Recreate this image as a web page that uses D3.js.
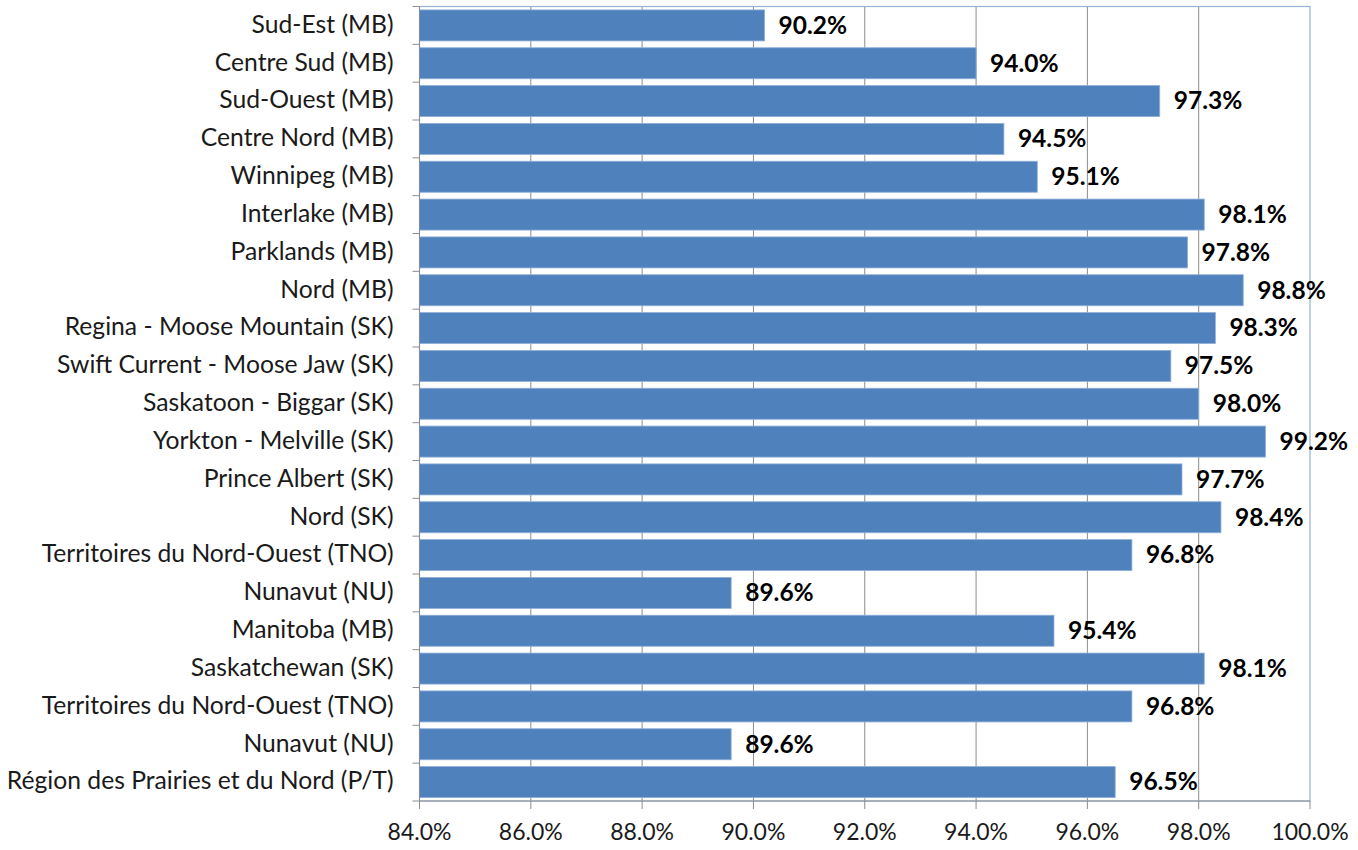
<!DOCTYPE html>
<html><head><meta charset="utf-8">
<script src="https://cdn.jsdelivr.net/npm/d3@7"></script>
<style>body{margin:0;background:#fff}</style>
</head><body><svg id="c" width="1358" height="850"></svg>
<script>
const categories = ["Sud-Est (MB)","Centre Sud (MB)","Sud-Ouest (MB)","Centre Nord (MB)","Winnipeg (MB)","Interlake (MB)","Parklands (MB)","Nord (MB)","Regina - Moose Mountain (SK)","Swift Current - Moose Jaw (SK)","Saskatoon - Biggar (SK)","Yorkton - Melville (SK)","Prince Albert (SK)","Nord (SK)","Territoires du Nord-Ouest (TNO)","Nunavut (NU)","Manitoba (MB)","Saskatchewan (SK)","Territoires du Nord-Ouest (TNO)","Nunavut (NU)","Région des Prairies et du Nord (P/T)"];
const values = [90.2,94.0,97.3,94.5,95.1,98.1,97.8,98.8,98.3,97.5,98.0,99.2,97.7,98.4,96.8,89.6,95.4,98.1,96.8,89.6,96.5];
const xTicks = [84,86,88,90,92,94,96,98,100];

const font = "Lato, 'Open Sans', sans-serif";
const L = 419.5, R = 1310, T = 6.5, B = 801;
const svg = d3.select("#c");
const x = d3.scaleLinear().domain([84,100]).range([L,R]);
const y = d3.scaleBand().domain(d3.range(categories.length)).range([T,B]).paddingInner(0.18).paddingOuter(0.09);

// gridlines
svg.append("g").selectAll("line").data(xTicks.slice(1,-1)).join("line")
  .attr("x1",d=>x(d)).attr("x2",d=>x(d)).attr("y1",T).attr("y2",B)
  .attr("stroke","#8c8c8c").attr("stroke-width",1);
// plot border
svg.append("rect").attr("x",L).attr("y",T).attr("width",R-L).attr("height",B-T)
  .attr("fill","none").attr("stroke","#95b3d7").attr("stroke-width",1.2);

// bars
svg.append("g").selectAll("rect").data(values).join("rect")
  .attr("x",x(84)).attr("y",(d,i)=>y(i)).attr("width",d=>x(d)-x(84)).attr("height",y.bandwidth())
  .attr("fill","#4f81bd").attr("stroke","#8fb0d9").attr("stroke-width",0.8);

// value labels
svg.append("g").selectAll("text").data(values).join("text")
  .attr("x",d=>x(d)+14).attr("y",(d,i)=>y(i)+y.bandwidth()/2+2)
  .attr("dominant-baseline","middle")
  .attr("font-family",font).attr("font-weight","bold").attr("font-size",24.5).attr("fill","#000")
  .text(d=>d.toFixed(1)+"%");

// y axis
const yAxis = d3.scaleBand().domain(d3.range(categories.length)).range([T,B]);
const gy = svg.append("g").attr("transform",`translate(${L},0)`);
gy.append("line").attr("x1",0).attr("x2",0).attr("y1",T).attr("y2",B).attr("stroke","#8c8c8c");
gy.selectAll("line.t").data(d3.range(categories.length+1)).join("line").attr("class","t")
  .attr("x1",-7).attr("x2",0).attr("y1",i=>T+i*yAxis.bandwidth()).attr("y2",i=>T+i*yAxis.bandwidth())
  .attr("stroke","#8c8c8c");
gy.selectAll("text").data(categories).join("text")
  .attr("x",-26).attr("y",(d,i)=>yAxis(i)+yAxis.bandwidth()/2+1)
  .attr("text-anchor","end").attr("dominant-baseline","middle")
  .attr("font-family",font).attr("font-size",24.7).attr("fill","#1a1a1a").text(d=>d);

// x axis
const gx = svg.append("g").attr("transform",`translate(0,${B})`);
gx.append("line").attr("x1",L).attr("x2",R).attr("stroke","#8c8c8c");
gx.selectAll("line.t").data(xTicks).join("line").attr("class","t")
  .attr("x1",d=>x(d)).attr("x2",d=>x(d)).attr("y1",0).attr("y2",8).attr("stroke","#8c8c8c");
gx.selectAll("text").data(xTicks).join("text")
  .attr("x",d=>x(d)).attr("y",39).attr("text-anchor","middle")
  .attr("font-family",font).attr("font-size",23).attr("fill","#1a1a1a")
  .text(d=>d.toFixed(1)+"%");
</script></body></html>
